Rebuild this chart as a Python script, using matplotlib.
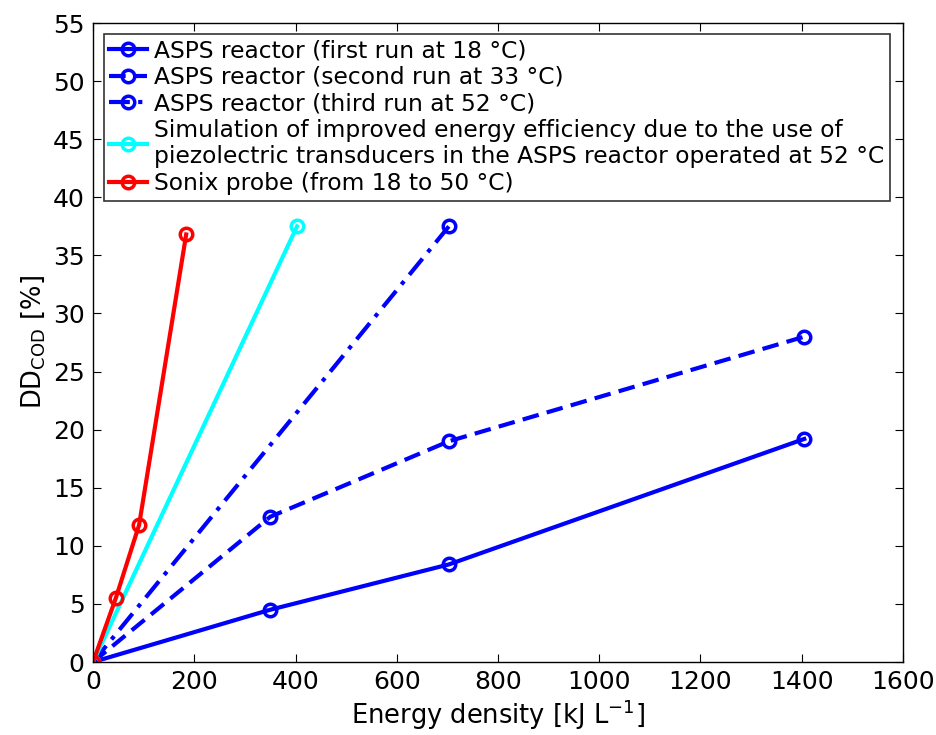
import matplotlib.pyplot as plt

# ASPS reactor runs
x_run1 = [0, 350, 703, 1405]
y_run1 = [0, 4.5, 8.4, 19.2]
x_run2 = [0, 350, 703, 1405]
y_run2 = [0, 12.5, 19.0, 28.0]
x_run3 = [0, 703]
y_run3 = [0, 37.5]
# simulated piezoelectric case
x_sim = [0, 403]
y_sim = [0, 37.5]
# Sonix probe
x_sonix = [0, 45, 91, 184]
y_sonix = [0, 5.5, 11.8, 36.8]

labels = [
    "ASPS reactor (first run at 18 °C)",
    "ASPS reactor (second run at 33 °C)",
    "ASPS reactor (third run at 52 °C)",
    "Simulation of improved energy efficiency due to the use of\n"
    "piezolectric transducers in the ASPS reactor operated at 52 °C",
    "Sonix probe (from 18 to 50 °C)",
]

fig = plt.figure(figsize=(9.36, 7.35), dpi=100)
ax = fig.add_axes([0.0994, 0.0993, 0.8653, 0.8694])

mk = dict(marker="o", markersize=9, markerfacecolor="none", markeredgewidth=2.5, linewidth=3)
ax.plot(x_run1, y_run1, "-", color="blue", label=labels[0], **mk)
ax.plot(x_run2, y_run2, "--", color="blue", label=labels[1], dashes=(4, 2), **mk)
ax.plot(x_run3, y_run3, "-.", color="blue", label=labels[2], dashes=(5, 2, 1, 2), **mk)
ax.plot(x_sim, y_sim, "-", color="cyan", label=labels[3], **mk)
ax.plot(x_sonix, y_sonix, "-", color="red", label=labels[4], **mk)

ax.set_xlim(0, 1600)
ax.set_ylim(0, 55)
ax.set_xticks(range(0, 1601, 200))
ax.set_yticks(range(0, 56, 5))
ax.tick_params(direction="in", top=True, right=True, labelsize=18, length=6, pad=6)
for s in ax.spines.values():
    s.set_linewidth(1)

ax.set_xlabel("Energy density [kJ L$^{-1}$]", fontsize=18.5, labelpad=2)
ax.set_ylabel("DD$_{\\mathrm{COD}}$ [%]", fontsize=18.5, labelpad=4)

leg = ax.legend(loc="upper left", fontsize=16.8, frameon=True, fancybox=False,
                edgecolor="black", handlelength=1.6, handletextpad=0.3,
                borderaxespad=0.45, labelspacing=0.15, borderpad=0.25)
leg.get_frame().set_linewidth(1.2)

fig.savefig("out.png", dpi=100)
